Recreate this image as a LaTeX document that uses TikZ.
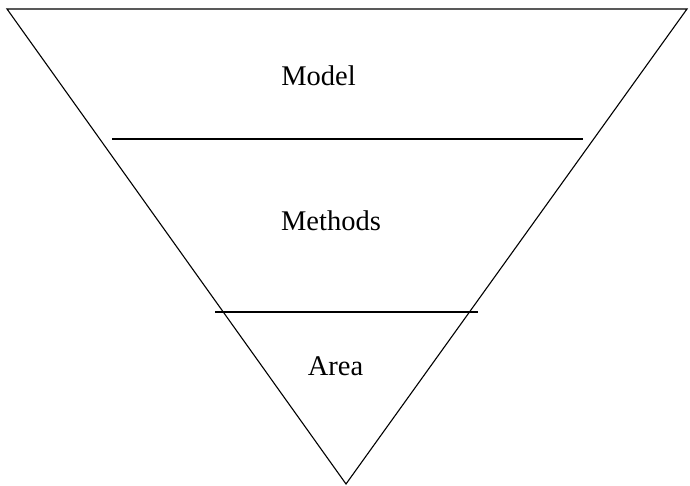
\documentclass[tikz,border=0pt]{standalone}
\usepackage{fontspec}
\setmainfont{Liberation Serif}
\begin{document}
\begin{tikzpicture}[x=1pt,y=1pt,
  edge/.style={line width=1.1pt, black, line join=miter},
  label/.style={font=\fontsize{28.5}{34}\selectfont, anchor=base, inner sep=0pt}]
  \useasboundingbox (0,0) rectangle (690,486);
  % outer inverted triangle
  \coordinate (tl) at (7,477);
  \coordinate (tr) at (687,477);
  \coordinate (apex) at (346,2);
  \draw[edge] (tl) -- (tr) -- (apex) -- cycle;
  % dividing lines
  \coordinate (d1l) at (112,347);
  \coordinate (d1r) at (583,347);
  \coordinate (d2l) at (215,174);
  \coordinate (d2r) at (478,174);
  \draw[edge] (d1l) -- (d1r);
  \draw[edge] (d2l) -- (d2r);
  % layer labels
  \node[label] (model) at (318.5,400) {Model};
  \node[label] (methods) at (331,255) {Methods};
  \node[label] (area) at (335.5,110) {Area};
\end{tikzpicture}
\end{document}
